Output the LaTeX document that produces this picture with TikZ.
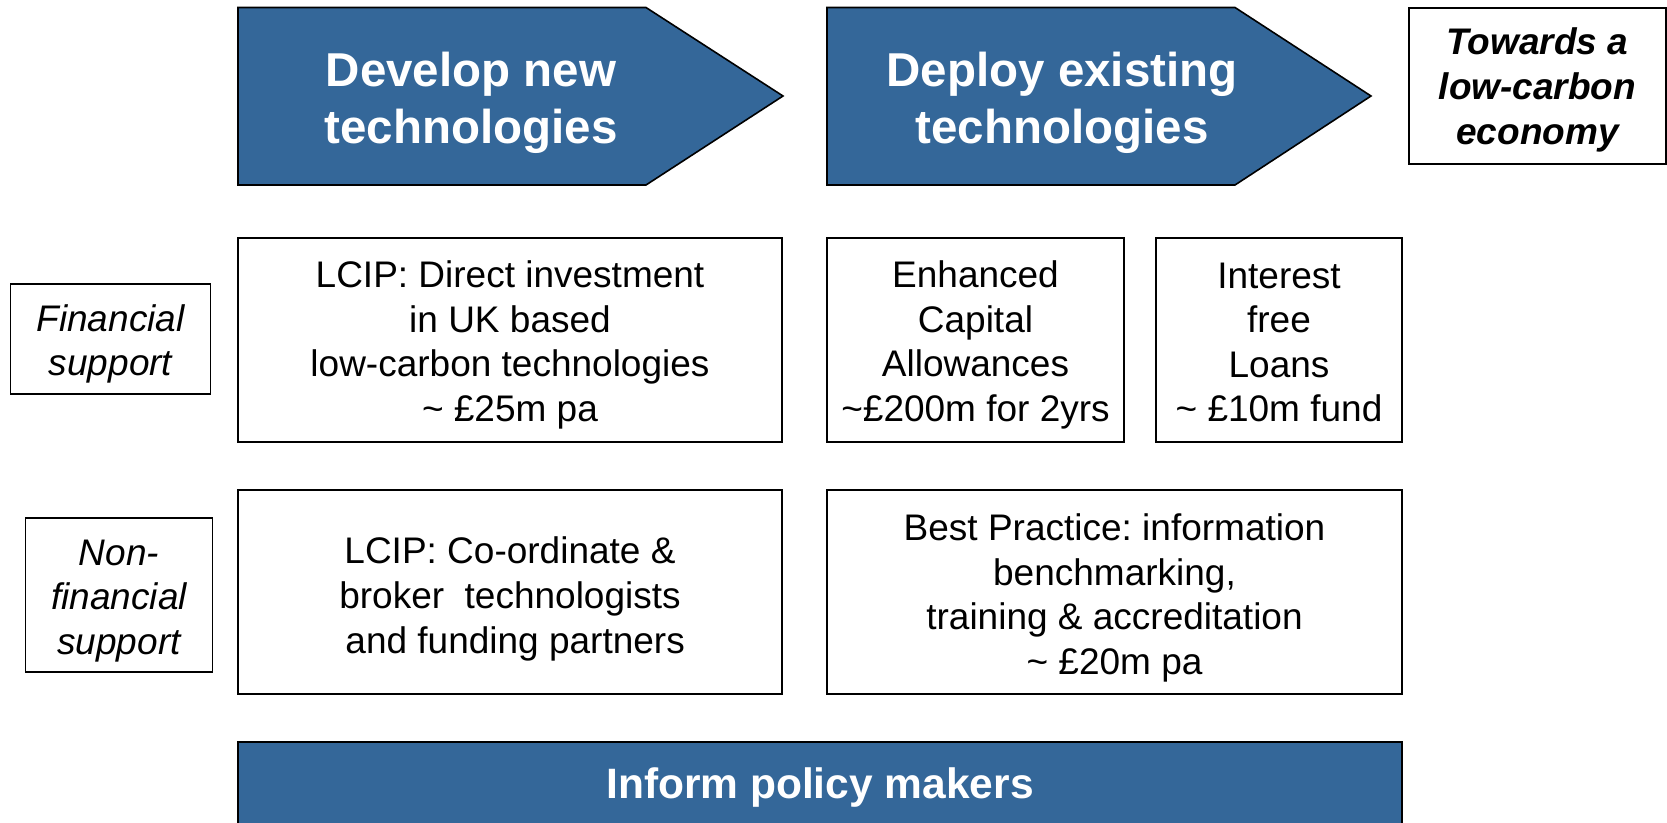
\documentclass[tikz,border=0pt]{standalone}
\usepackage{fontspec}
\setmainfont{Liberation Sans}
\definecolor{steel}{RGB}{52,103,153}
\AtBeginDocument{\frenchspacing}
\begin{document}
\begin{tikzpicture}[x=1pt,y=-1pt,
  box/.style={draw=black, line width=1.6pt, fill=white, inner sep=0pt},
  body/.style={align=center, inner sep=0pt, font=\fontsize{37}{44.6}\selectfont\frenchspacing},
  ital/.style={align=center, inner sep=0pt, font=\fontsize{37}{44.6}\selectfont\itshape},
  bitl/.style={align=center, inner sep=0pt, font=\fontsize{37}{45}\selectfont\bfseries\itshape},
  arrowshape/.style={fill=steel, draw=black, line width=1.6pt, line join=miter},
  arrowtext/.style={text=white, align=center, inner sep=0pt, font=\fontsize{47.5}{56.5}\selectfont\bfseries},
  bartext/.style={text=white, font=\fontsize{42.5}{50}\selectfont\bfseries}]
\useasboundingbox (0,0) rectangle (1667,822);
% top arrows
\filldraw[arrowshape] (238,7.5) -- (646,7.5) -- (783,96) -- (646,185) -- (238,185) -- cycle;
\node[arrowtext] (develop) at (471,103) {Develop new\\technologies};
\filldraw[arrowshape] (827,7.5) -- (1235,7.5) -- (1371,96) -- (1235,185) -- (827,185) -- cycle;
\node[arrowtext] (deploy) at (1062,103) {Deploy existing\\technologies};
\node[box, minimum width=257pt, minimum height=156pt] (towards) at (1537.5,86) {};
\node[bitl] (towardst) at ([yshift=-4pt]towards.center) {Towards a\\low-carbon\\economy};
% row labels
\node[box, minimum width=200pt, minimum height=110pt] (fin) at (110.5,339) {};
\node[ital] (fint) at ([yshift=-5pt]fin.center) {Financial\\support};
\node[box, minimum width=187pt, minimum height=154pt] (nonfin) at (119,595) {};
\node[ital] (nonfint) at ([yshift=-6pt]nonfin.center) {Non-\\financial\\support};
% financial row
\node[box, minimum width=544pt, minimum height=204pt] (lcipa) at (510,340) {};
\node[body] (lcipat) at ([yshift=-5pt]lcipa.center) {LCIP: Direct investment\\in UK based\\low-carbon technologies\\\textasciitilde{} £25m pa};
\node[box, minimum width=297pt, minimum height=204pt] (eca) at (975.5,340) {};
\node[body] (ecat) at ([yshift=-5pt]eca.center) {Enhanced\\Capital\\Allowances\\\textasciitilde£200m for 2yrs};
\node[box, minimum width=246pt, minimum height=204pt] (loans) at (1279,340) {};
\node[body] (loanst) at ([yshift=-2.5pt]loans.center) {Interest\\free\\Loans\\\textasciitilde{} £10m fund};
% non-financial row
\node[box, minimum width=544pt, minimum height=204pt] (lcipb) at (510,592) {};
\node[body] (lcipbt) at ([yshift=-7pt]lcipb.center) {LCIP: Co-ordinate \&\\broker\ \ technologists\\\ and funding partners};
\node[box, minimum width=575pt, minimum height=204pt] (best) at (1114.5,592) {};
\node[body] (bestt) at ([yshift=-6pt]best.center) {Best Practice: information\\benchmarking,\\training \& accreditation\\\textasciitilde{} £20m pa};
% bottom bar
\node[fill=steel, draw=black, line width=1.6pt, minimum width=1164pt, minimum height=90pt, inner sep=0pt] (bar) at (820,787) {};
\node[bartext] (inform) at (bar.center) {Inform policy makers};
\end{tikzpicture}
\end{document}
